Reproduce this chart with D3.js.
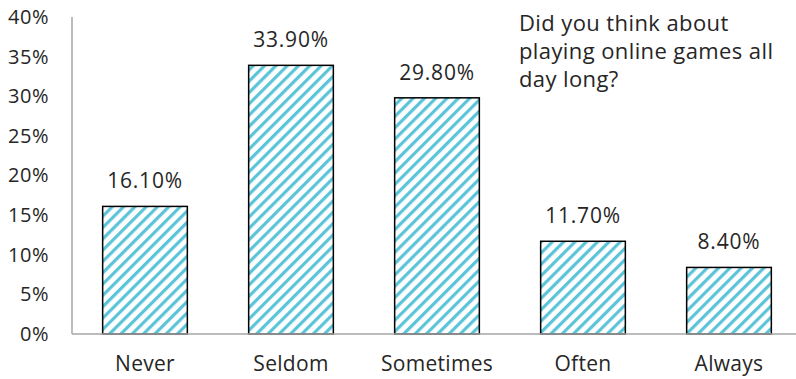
<!DOCTYPE html>
<html>
<head>
<meta charset="utf-8">
<script src="https://cdn.jsdelivr.net/npm/d3@7"></script>
<style>
  body { margin: 0; background: #fff; }
  text { font-family: "Open Sans", sans-serif; fill: #262626; }
</style>
</head>
<body>
<svg id="chart" width="796" height="379"></svg>
<script>
// answers to the survey question
var categories = ["Never", "Seldom", "Sometimes", "Often", "Always"];
var values = [16.1, 33.9, 29.8, 11.7, 8.4];
var yTicks = [0, 5, 10, 15, 20, 25, 30, 35, 40];
var titleLines = ["Did you think about", "playing online games all", "day long?"];

var width = 796, height = 379;
var mLeft = 72, mRight = 802, mTop = 17, mBottom = 334;

var svg = d3.select("#chart");

// diagonal stripe fill
var defs = svg.append("defs");
var pat = defs.append("pattern")
    .attr("id", "stripes")
    .attr("patternUnits", "userSpaceOnUse")
    .attr("width", 8).attr("height", 8)
    .attr("patternTransform", "rotate(45)");
pat.append("rect").attr("width", 8).attr("height", 8).attr("fill", "#fff");
pat.append("rect").attr("x", 0).attr("width", 3.2).attr("height", 8).attr("fill", "#5bc4d9");

var x = d3.scaleBand().domain(categories).range([mLeft, mRight]).paddingInner(0.42).paddingOuter(0.21);
var y = d3.scaleLinear().domain([0, 40]).range([mBottom, mTop]);

// y axis labels
var yAxis = svg.append("g")
    .attr("transform", "translate(" + mLeft + ",0)")
    .call(d3.axisLeft(y).tickValues(yTicks).tickSize(0).tickPadding(23).tickFormat(function(d){ return d + "%"; }));
yAxis.select(".domain").remove();
yAxis.selectAll("text").style("font-size", "20px").style("font-family", "Open Sans")
    .style("letter-spacing", "0.5px").attr("fill", "#262626");

svg.append("line")
    .attr("x1", mLeft).attr("x2", mLeft)
    .attr("y1", mTop).attr("y2", mBottom)
    .attr("stroke", "#a6a6a6").attr("stroke-width", 1.5);

// bars
svg.selectAll("rect.bar")
    .data(values)
  .enter().append("rect")
    .attr("class", "bar")
    .attr("x", function(d, i){ return x(categories[i]); })
    .attr("width", x.bandwidth())
    .attr("y", function(d){ return y(d); })
    .attr("height", function(d){ return y(0) - y(d); })
    .attr("fill", "url(#stripes)")
    .attr("stroke", "#000").attr("stroke-width", 1.5);

// x axis
var xAxis = svg.append("g")
    .attr("transform", "translate(0," + mBottom + ")")
    .call(d3.axisBottom(x).tickSize(0).tickPadding(22));
xAxis.select(".domain").remove();
xAxis.selectAll("text").style("font-size", "21px").style("font-family", "Open Sans")
    .style("letter-spacing", "0.3px").attr("fill", "#262626");

svg.append("line")
    .attr("x1", mLeft).attr("x2", width)
    .attr("y1", mBottom).attr("y2", mBottom)
    .attr("stroke", "#a6a6a6").attr("stroke-width", 1.5);

// value labels
svg.selectAll("text.val")
    .data(values)
  .enter().append("text")
    .attr("class", "val")
    .attr("x", function(d, i){ return x(categories[i]) + x.bandwidth() / 2; })
    .attr("y", function(d){ return y(d) - 18; })
    .attr("text-anchor", "middle")
    .style("font-size", "21px")
    .style("letter-spacing", "0.8px")
    .text(function(d){ return d.toFixed(2) + "%"; });

// question text
svg.append("g").selectAll("text")
    .data(titleLines)
  .enter().append("text")
    .attr("x", 519)
    .attr("y", function(d, i){ return 31 + i * 28; })
    .style("font-size", "22px")
    .style("letter-spacing", "0.4px")
    .text(function(d){ return d; });
</script>
</body>
</html>
